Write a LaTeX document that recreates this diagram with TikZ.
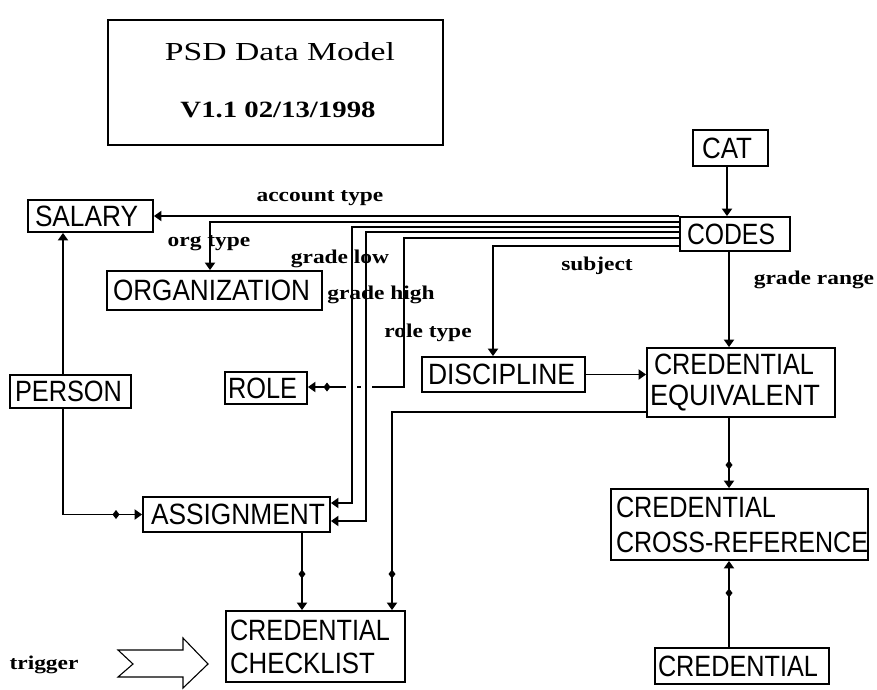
\documentclass[tikz,border=0pt]{standalone}
\usepackage{fontspec}
\setmainfont{Liberation Serif}
\newfontfamily\boxff{Liberation Sans}
\usetikzlibrary{arrows.meta,calc}
\newcommand\bt[3]{\hspace*{#1}\resizebox{#2}{20.5pt}{\boxff #3}}
\newcommand\lt[1]{\scalebox{1.2}[1]{#1}}
\newcommand\dmd[1]{\fill (#1) +(0,-4.5) -- +(3.5,0) -- +(0,4.5) -- +(-3.5,0) -- cycle;}
\begin{document}
\begin{tikzpicture}[x=1pt,y=-1pt,
  ent/.style={draw, line width=1.8pt, inner sep=0pt,
    font=\boxff\fontsize{28}{33}\selectfont, align=left},
  lab/.style={font=\bfseries\fontsize{19.5}{21}\selectfont, inner sep=0pt},
  conn/.style={line width=1.9pt},
  arr/.style={conn, -{Triangle[width=10pt,length=7.5pt]}},
]
\fill[white] (0,0) rectangle (877,689);
\useasboundingbox (0,0) rectangle (877,689);

% title
\node[draw, line width=1.5pt, minimum width=335pt, minimum height=125pt, inner sep=0pt] (title) at (275.5,82.5) {};
\node[inner sep=0pt] (t1) at (280,52) {\resizebox{230pt}{18pt}{PSD Data Model}};
\node[inner sep=0pt] (t2) at (278,110) {\resizebox{195pt}{15.5pt}{\bfseries V1.1 02/13/1998}};

% entities
\node[ent, text width=75pt,  minimum height=36pt] (CAT)    at (730.5,148)  {\bt{9pt}{50pt}{CAT}};
\node[ent, text width=110pt, minimum height=34pt] (CODES)  at (735,234)    {\bt{7pt}{88pt}{CODES}};
\node[ent, text width=125pt, minimum height=32pt] (SAL)    at (90.5,216)   {\bt{7pt}{103pt}{SALARY}};
\node[ent, text width=215pt, minimum height=39pt] (ORG)    at (214.5,290.5){\bt{6pt}{197pt}{ORGANIZATION}};
\node[ent, text width=121pt, minimum height=33pt] (PER)    at (70.5,391.5) {\bt{5pt}{107pt}{PERSON}};
\node[ent, text width=82pt,  minimum height=32pt] (ROLE)   at (266,388)    {\bt{3pt}{69pt}{ROLE}};
\node[ent, text width=163pt, minimum height=35pt] (DISC)   at (503.5,374.5){\bt{6pt}{147pt}{DISCIPLINE}};
\node[ent, text width=188pt, minimum height=69pt, font=\boxff\fontsize{28}{31}\selectfont] (CREDEQ) at (741,382.5)
  {\bt{7pt}{160pt}{CREDENTIAL}\\\bt{3pt}{170pt}{EQUIVALENT}};
\node[ent, text width=187pt, minimum height=35pt] (ASSIGN) at (236.5,514.5){\bt{8pt}{174pt}{ASSIGNMENT}};
\node[ent, text width=257pt, minimum height=71pt, font=\boxff\fontsize{28}{35}\selectfont] (CROSS) at (739.5,524.5)
  {\bt{5pt}{160pt}{CREDENTIAL}\\\bt{5pt}{252pt}{CROSS-REFERENCE}};
\node[ent, text width=179pt, minimum height=71pt] (CHECK)  at (315.5,646.5)
  {\bt{4pt}{160pt}{CREDENTIAL}\\\bt{4pt}{145pt}{CHECKLIST}};
\node[ent, text width=174pt, minimum height=36pt] (CRED)   at (742,666)    {\bt{3pt}{160pt}{CREDENTIAL}};

% connectors
\draw[arr] ([xshift=-3.5pt]CAT.south) -- ([xshift=-3.5pt]CAT.south |- CODES.north);
\draw[arr] (CODES.west |- SAL.east) -- (SAL.east);
\draw[arr] (CODES.west |- 0,222) -| ([xshift=-4.5pt]ORG.north);
\draw[arr] (CODES.west |- 0,227) -| (352,503) -- (ASSIGN.east |- 0,503);
\draw[arr] (CODES.west |- 0,232) -| (366,521) -- (ASSIGN.east |- 0,521);
\draw[conn] (CODES.west |- 0,238) -| (404,387) -- (372,387);
\draw[conn] (357,387) -- (361,387);
\draw[arr] (346,387) -- (ROLE.east |- 0,387);
\dmd{327,387}
\draw[arr] (CODES.west |- 0,246) -| ([xshift=-10.5pt]DISC.north);
\draw[arr] ([xshift=-6pt]CODES.south) -- ([xshift=-6pt]CODES.south |- CREDEQ.north);
\draw[arr] (DISC.east) -- (DISC.east -| CREDEQ.west);
\draw[arr] (CREDEQ.west |- 0,412) -| ([xshift=76.5pt]CHECK.north);
\dmd{392,574}
\draw[arr] ([xshift=65.5pt]ASSIGN.south) -- ([xshift=65.5pt]ASSIGN.south |- CHECK.north);
\dmd{302,574}
\draw[arr] ([xshift=-12pt]CREDEQ.south) -- ([xshift=-12pt]CREDEQ.south |- CROSS.north);
\dmd{729,465}
\draw[arr] ([xshift=-13pt]CRED.north) -- ([xshift=-13pt]CRED.north |- CROSS.south);
\dmd{729,593}
\draw[arr] ([xshift=-7.5pt]PER.north) -- ([xshift=-7.5pt]PER.north |- SAL.south);
\draw[arr] ([xshift=-7.5pt]PER.south) |- (ASSIGN.west);
\dmd{116,514.5}

% trigger arrow
\draw[line width=1.1pt, line join=miter] (118,650) -- (183,650) -- (183,638) -- (208,664) -- (183,688) -- (183,677) -- (118,677) -- (133,664) -- cycle;

% labels
\node[lab] (lacc)  at (320,198) {\lt{account type}};
\node[lab] (lorg)  at (209,243) {\lt{org type}};
\node[lab] (llow)  at (340,259) {\lt{grade low}};
\node[lab] (lhigh) at (381,295) {\lt{grade high}};
\node[lab] (lrole) at (428,333) {\lt{role type}};
\node[lab] (lsub)  at (597,266) {\lt{subject}};
\node[lab] (lrng)  at (814,280) {\lt{grade range}};
\node[lab] (ltrig) at (44,665)  {\lt{trigger}};
\end{tikzpicture}
\end{document}
